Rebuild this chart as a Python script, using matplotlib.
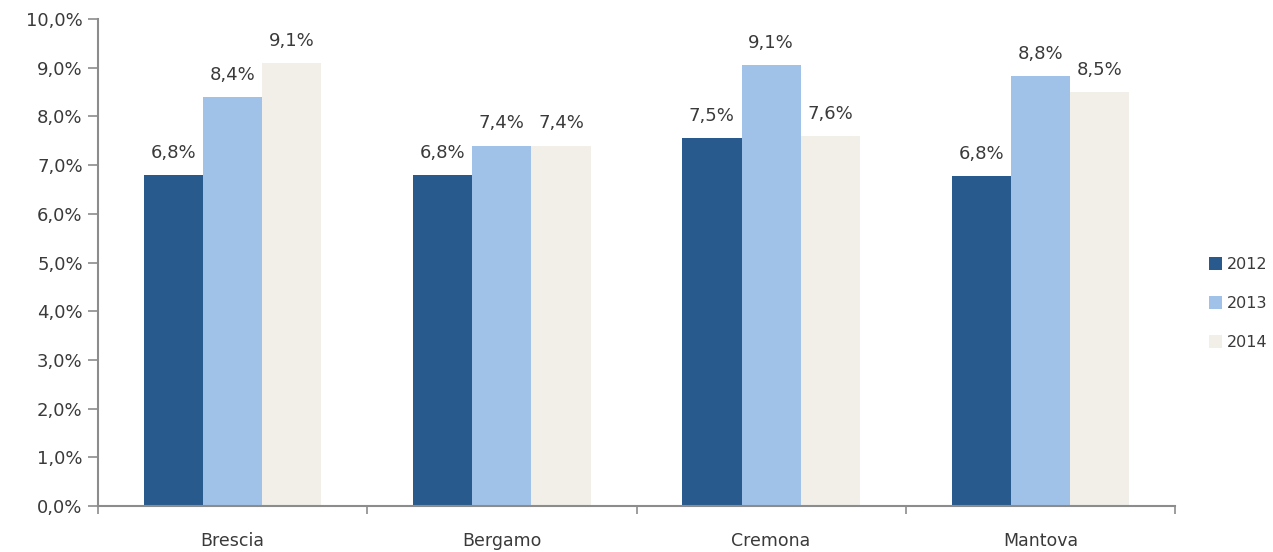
import matplotlib
matplotlib.use("Agg")
import matplotlib.pyplot as plt
import numpy as np
from matplotlib.patches import Patch

# Dati: quota per provincia e anno
PROVINCE = ["Brescia", "Bergamo", "Cremona", "Mantova"]
ANNI = ["2012", "2013", "2014"]
VAL_2012 = [6.8, 6.8, 7.55, 6.78]
VAL_2013 = [8.4, 7.4, 9.05, 8.82]
VAL_2014 = [9.1, 7.4, 7.6, 8.5]
LAB_2012 = ["6,8%", "6,8%", "7,5%", "6,8%"]
LAB_2013 = ["8,4%", "7,4%", "9,1%", "8,8%"]
LAB_2014 = ["9,1%", "7,4%", "7,6%", "8,5%"]

COLORI = ["#285a8e", "#a0c2e8", "#f1efe8"]
TXT = "#3a3a3a"

fig = plt.figure(figsize=(12.73, 5.52), dpi=100)
ax = fig.add_axes([0.077, 0.0833, 0.846, 0.8823])

x = np.arange(len(PROVINCE))
w = 0.22
serie = [VAL_2012, VAL_2013, VAL_2014]
etichette = [LAB_2012, LAB_2013, LAB_2014]
for i, (vals, labs) in enumerate(zip(serie, etichette)):
    pos = x + (i - 1) * w
    ax.bar(pos, vals, width=w, color=COLORI[i], edgecolor="none")
    for p, v, t in zip(pos, vals, labs):
        ax.text(p, v + 0.27, t, ha="center", va="bottom",
                fontsize=13, color=TXT)

ax.set_xlim(-0.5, len(PROVINCE) - 0.5)
ax.set_ylim(0, 10)
ax.set_yticks(np.arange(0, 11, 1))
ax.set_yticklabels([f"{v:.1f}%".replace(".", ",") for v in range(11)],
                   fontsize=13, color=TXT)
ax.set_xticks(x)
ax.set_xticklabels(PROVINCE, fontsize=12.5, color=TXT)
ax.set_xticks(np.arange(-0.5, len(PROVINCE)), minor=True)
ax.tick_params(axis="x", which="major", length=0, pad=19)
ax.tick_params(axis="x", which="minor", length=6, color="#8c8c8c", width=1.2)
ax.tick_params(axis="y", length=7, color="#8c8c8c", width=1.2, pad=4)

for s in ["top", "right"]:
    ax.spines[s].set_visible(False)
for s in ["left", "bottom"]:
    ax.spines[s].set_color("#8c8c8c")
    ax.spines[s].set_linewidth(1.5)

handles = [Patch(facecolor=c, edgecolor="none") for c in COLORI]
fig.legend(handles, ANNI, loc="center left", bbox_to_anchor=(0.945, 0.45),
           frameon=False, fontsize=11.5, handlelength=0.8, handleheight=0.8,
           handletextpad=0.3, labelspacing=1.5, borderaxespad=0,
           labelcolor=TXT)

fig.savefig("out.png", dpi=100)
